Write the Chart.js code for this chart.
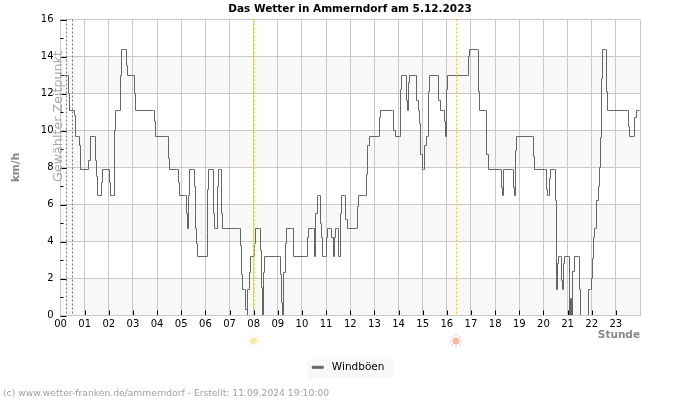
<!DOCTYPE html>
<html>

<head>
    <meta charset="utf-8">
    <title>Das Wetter in Ammerndorf</title>
    <style>
        body { margin: 0; background: #fff; }
        canvas { display: block; }
    </style>
</head>

<body>
    <canvas id="chart" width="700" height="400"></canvas>

    <script src="https://cdn.jsdelivr.net/npm/chart.js"></script>

    <script>
        const titleText = 'Das Wetter in Ammerndorf am 5.12.2023';
        const yLabel = 'km/h';
        const xLabel = 'Stunde';
        const seriesName = 'Windböen';
        const markerText = 'Gewählter Zeitpunkt';
        const footerText = '(c) www.wetter-franken.de/ammerndorf - Erstellt: 11.09.2024 19:10:00';

        // Stunde des Tages
        const hours = [
            .02, .31, .35, .39, .56, .60, .64, .72, .77, .81, 1.14, 1.18, 1.23, 1.39, 1.43, 1.50, 1.55, 1.63, 1.68, 1.73,
            2.01, 2.05, 2.09, 2.17, 2.23, 2.27, 2.42, 2.47, 2.52, 2.67, 2.72, 2.76, 3.00, 3.05, 3.09, 3.83, 3.88, 3.94,
            4.41, 4.46, 4.50, 4.82, 4.87, 4.92, 5.15, 5.22, 5.25, 5.29, 5.33, 5.48, 5.54, 5.58, 5.61, 5.64, 5.68,
            6.02, 6.07, 6.10, 6.11, 6.27, 6.32, 6.36, 6.43, 6.49, 6.53, 6.60, 6.65, 6.69, 7.43, 7.47, 7.51, 7.55, 7.62,
            7.67, 7.73, 7.76, 7.81, 7.85, 8.01, 8.05, 8.09, 8.25, 8.30, 8.34, 8.37, 8.39, 8.45, 9.08, 9.12, 9.16, 9.19,
            9.25, 9.30, 9.36, 9.58, 9.63, 9.67, 10.20, 10.25, 10.29, 10.45, 10.50, 10.54, 10.58, 10.64, 10.69, 10.75,
            10.81, 10.86, 10.94, 11.00, 11.04, 11.19, 11.24, 11.29, 11.33, 11.37, 11.48, 11.51, 11.53, 11.58, 11.63,
            11.77, 11.82, 11.87, 12.27, 12.32, 12.36, 12.60, 12.67, 12.72, 12.78, 13.18, 13.23, 13.27, 13.76, 13.81,
            13.88, 14.05, 14.10, 14.14, 14.29, 14.35, 14.39, 14.43, 14.47, 14.71, 14.76, 14.82, 14.87, 14.93, 14.98,
            15.04, 15.09, 15.15, 15.20, 15.25, 15.30, 15.62, 15.67, 15.73, 15.87, 15.92, 15.96, 16.00, 16.04, 16.86,
            16.91, 16.95, 17.27, 17.33, 17.37, 17.60, 17.66, 17.71, 18.22, 18.28, 18.32, 18.36, 18.40, 18.72, 18.77,
            18.82, 18.86, 18.90, 19.55, 19.60, 19.64, 20.04, 20.11, 20.16, 20.21, 20.26, 20.30, 20.46, 20.51, 20.53,
            20.55, 20.59, 20.64, 20.71, 20.76, 20.80, 20.84, 20.88, 21.04, 21.09, 21.13, 21.17, 21.21, 21.30, 21.45,
            21.50, 21.55, 21.79, 21.88, 21.95, 21.99, 22.03, 22.07, 22.11, 22.17, 22.21, 22.27, 22.32, 22.36, 22.40,
            22.43, 22.58, 22.62, 22.66, 23.49, 23.53, 23.58, 23.74, 23.78, 23.84, 23.97
        ];

        // Windböen in km/h
        const gusts = [
            13, 13, 12, 11.1, 11.1, 10.8, 9.7, 9.7, 9.2, 7.9, 7.9, 8.4, 9.7, 9.7, 8.4, 7.5, 6.5, 6.5, 7.2, 7.9,
            7.9, 7.2, 6.5, 6.5, 10, 11.1, 11.1, 13, 14.4, 14.4, 13.5, 13, 13, 12, 11.1, 11.1, 10.5, 9.7,
            9.7, 8.5, 7.9, 7.9, 7.2, 6.5, 6.5, 5.5, 4.7, 6.5, 7.9, 7.9, 7, 5.5, 4.7, 3.9, 3.2,
            3.2, 4.5, 6.8, 7.9, 7.9, 5.5, 4.7, 4.7, 7, 7.9, 7.9, 5.5, 4.7, 4.7, 3.8, 2.2, 1.4, 1.4,
            .3, 0, 1.4, 2.3, 3.2, 3.2, 3.9, 4.7, 4.7, 3.5, 1.5, 0, 2.3, 3.2, 3.2, 2.2, .7, 0,
            2.3, 3.9, 4.7, 4.7, 4.2, 3.2, 3.2, 4.2, 4.7, 4.7, 4.2, 3.2, 5.5, 6.5, 6.5, 5,
            4.2, 3.2, 3.2, 4.2, 4.7, 4.7, 4.2, 3.2, 4.2, 4.7, 4.7, 4.2, 3.2, 5.5, 6.5,
            6.5, 5.2, 4.7, 4.7, 5.9, 6.5, 6.5, 7.6, 9.2, 9.7, 9.7, 10.7, 11.1, 11.1, 10,
            9.7, 9.7, 12.2, 13, 13, 11.6, 11.1, 12.6, 13, 13, 11.6, 11.1, 10.4, 8.7, 7.9,
            7.9, 9.2, 9.7, 9.7, 12.1, 13, 13, 11.6, 11.1, 11.1, 10.5, 9.7, 12.2, 13, 13,
            14, 14.4, 14.4, 12.1, 11.1, 11.1, 8.7, 7.9, 7.9, 6.9, 6.5, 7.9, 7.9, 7.9, 6.9,
            6.5, 8.9, 9.7, 9.7, 8.6, 7.9, 7.9, 6.8, 6.5, 6.5, 7.4, 7.9, 7.9, 6.2, 3.1,
            1.4, 2.8, 3.2, 3.2, 1.9, 1.4, 2.8, 3.2, 3.2, 0, .9, 0, 2.4, 3.2, 3.2,
            1.4, 0, 0, 1.4, 1.4, 2, 3.1, 4.2, 4.7, 4.7, 6.2, 7, 8, 9.6, 12.8,
            14.4, 14.4, 12.1, 11.1, 11.1, 10.2, 9.7, 9.7, 10.7, 11.1, 11.1
        ];

        const bandStarts = [0, 4, 8, 12];
        const minorTicks = [1, 3, 5, 7, 9, 11, 13, 15];
        const markerHours = [0.24, 0.49];
        const sunriseHour = 8.0;
        const sunsetHour = 16.38;

        const grey = '#666666';
        const gridColor = '#c8c8c8';

        function drawSun(ctx, x, y, color) {
            ctx.save();
            ctx.strokeStyle = color;
            ctx.fillStyle = color;
            ctx.lineWidth = 1;
            ctx.beginPath();
            ctx.arc(x, y, 3.5, 0, Math.PI * 2);
            ctx.fill();
            for (let i = 0; i < 8; i++) {
                const a = i * Math.PI / 4;
                ctx.beginPath();
                ctx.moveTo(x + Math.cos(a) * 4.5, y + Math.sin(a) * 4.5);
                ctx.lineTo(x + Math.cos(a) * 6.5, y + Math.sin(a) * 6.5);
                ctx.stroke();
            }
            ctx.restore();
        }

        // Linie auf ganze Pixel legen, sonst wird sie verwaschen
        const snapPlugin = {
            id: 'snap',
            afterDatasetsUpdate(chart) {
                chart.getDatasetMeta(0).data.forEach(p => {
                    p.x = Math.round(p.x - 0.5) + 0.5;
                    p.y = Math.round(p.y - 0.5) + 0.5;
                });
            }
        };

        // Hintergrundstreifen
        const bandPlugin = {
            id: 'bands',
            beforeDraw(chart) {
                const { ctx, chartArea, scales } = chart;
                ctx.save();
                ctx.fillStyle = '#f8f8f8';
                bandStarts.forEach(v => {
                    const top = scales.y.getPixelForValue(v + 2);
                    const bottom = scales.y.getPixelForValue(v);
                    ctx.fillRect(chartArea.left, top, chartArea.width, bottom - top);
                });
                // Legende bekommt auch einen Hintergrund
                const l = chart.legend;
                ctx.fillRect(307, l.top, 87, 19.5);
                ctx.restore();
            }
        };

        // Markierungen, Sonnenauf- und untergang, Texte
        const extrasPlugin = {
            id: 'extras',
            afterDatasetsDraw(chart) {
                const { ctx, chartArea, scales } = chart;
                const { top, bottom, left } = chartArea;
                ctx.save();
                ctx.lineWidth = 1;

                function vline(hour, color, dash) {
                    const x = Math.round(scales.x.getPixelForValue(hour)) + 0.5;
                    ctx.strokeStyle = color;
                    ctx.setLineDash(dash);
                    ctx.beginPath();
                    ctx.moveTo(x, top);
                    ctx.lineTo(x, bottom);
                    ctx.stroke();
                }
                markerHours.forEach(h => vline(h, '#777777', [2, 2]));
                vline(sunriseHour, '#f2e23c', [2, 2]);
                vline(sunsetHour, '#fdb94a', [2, 2]);
                ctx.setLineDash([]);

                // kurze Striche nach innen
                ctx.strokeStyle = '#000';
                scales.y.ticks.forEach(t => {
                    const y = Math.round(scales.y.getPixelForValue(t.value)) + 0.5;
                    ctx.beginPath();
                    ctx.moveTo(left, y);
                    ctx.lineTo(left + 6, y);
                    ctx.stroke();
                });
                minorTicks.forEach(v => {
                    const y = Math.round(scales.y.getPixelForValue(v)) + 0.5;
                    ctx.beginPath();
                    ctx.moveTo(left, y);
                    ctx.lineTo(left + 3, y);
                    ctx.stroke();
                });
                scales.x.ticks.forEach(t => {
                    if (t.value === 0 || t.value === 24) return;
                    const x = Math.round(scales.x.getPixelForValue(t.value)) + 0.5;
                    ctx.beginPath();
                    ctx.moveTo(x, bottom);
                    ctx.lineTo(x, bottom - 5);
                    ctx.stroke();
                });

                drawSun(ctx, scales.x.getPixelForValue(sunriseHour), 341, '#fde9a6');
                drawSun(ctx, scales.x.getPixelForValue(sunsetHour), 341, '#ffb7a4');

                ctx.fillStyle = '#a8a8a8';
                ctx.font = '12.7px "DejaVu Sans"';
                ctx.textAlign = 'center';
                ctx.textBaseline = 'middle';
                ctx.translate(59, 116.5);
                ctx.rotate(-Math.PI / 2);
                ctx.fillText(markerText, 0, 0);
                ctx.restore();

                ctx.save();
                ctx.fillStyle = '#a0a0a0';
                ctx.font = '9.2px "DejaVu Sans"';
                ctx.textBaseline = 'middle';
                ctx.fillText(footerText, 3, 393.5);
                ctx.restore();
            }
        };

        new Chart(document.getElementById('chart'), {
            type: 'line',
            data: {
                datasets: [{
                    label: seriesName,
                    data: hours.map((h, i) => ({ x: h, y: gusts[i] })),
                    borderColor: grey,
                    backgroundColor: grey,
                    borderWidth: 1,
                    pointRadius: 0,
                    stepped: true
                }]
            },
            plugins: [snapPlugin, bandPlugin, extrasPlugin],
            options: {
                responsive: false,
                animation: false,
                layout: { padding: { left: 0, right: 0, bottom: 17.5, top: 0 } },
                scales: {
                    x: {
                        type: 'linear',
                        min: 0,
                        max: 24,
                        afterFit(scale) { scale.height = 43.5; },
                        grid: { color: gridColor, drawTicks: false },
                        border: { color: gridColor, z: 1 },
                        ticks: {
                            stepSize: 1,
                            autoSkip: false,
                            maxRotation: 0,
                            padding: 3,
                            color: '#000',
                            font: { family: 'DejaVu Sans', size: 10 },
                            callback: v => v === 24 ? '' : String(v).padStart(2, '0')
                        },
                        title: {
                            display: true,
                            text: xLabel,
                            align: 'end',
                            color: '#888888',
                            font: { family: 'DejaVu Sans', size: 10.5, weight: 'bold' },
                            padding: { top: 0, bottom: 17 }
                        }
                    },
                    y: {
                        min: 0,
                        max: 16,
                        afterFit(scale) { scale.width = 60.5; },
                        grid: { color: gridColor, drawTicks: false },
                        border: { color: gridColor },
                        ticks: {
                            stepSize: 2,
                            padding: 7,
                            color: '#000',
                            font: { family: 'DejaVu Sans', size: 10 }
                        },
                        title: {
                            display: true,
                            text: yLabel,
                            color: '#888888',
                            font: { family: 'DejaVu Sans', size: 10.5, weight: 'bold' },
                            padding: { top: 10, bottom: 0 }
                        }
                    },
                    // leere Achse rechts, damit Titel und Legende mittig bleiben
                    yRight: {
                        position: 'right',
                        afterFit(scale) { scale.width = 60; },
                        grid: { display: false },
                        border: { display: false },
                        ticks: { display: false }
                    }
                },
                plugins: {
                    title: {
                        display: true,
                        text: titleText,
                        color: '#000',
                        font: { family: 'DejaVu Sans', size: 10.5, weight: 'bold' },
                        padding: { top: 3, bottom: 3.9 }
                    },
                    legend: {
                        position: 'bottom',
                        labels: {
                            color: '#000',
                            font: { family: 'DejaVu Sans', size: 10.5 },
                            boxWidth: 11,
                            boxHeight: 2,
                            padding: 3,
                            generateLabels: chart => Chart.defaults.plugins.legend.labels.generateLabels(chart)
                                .map(item => ({ ...item, text: ' ' + item.text + ' ' }))
                        }
                    },
                    tooltip: { enabled: false }
                }
            }
        });
    </script>
</body>

</html>
